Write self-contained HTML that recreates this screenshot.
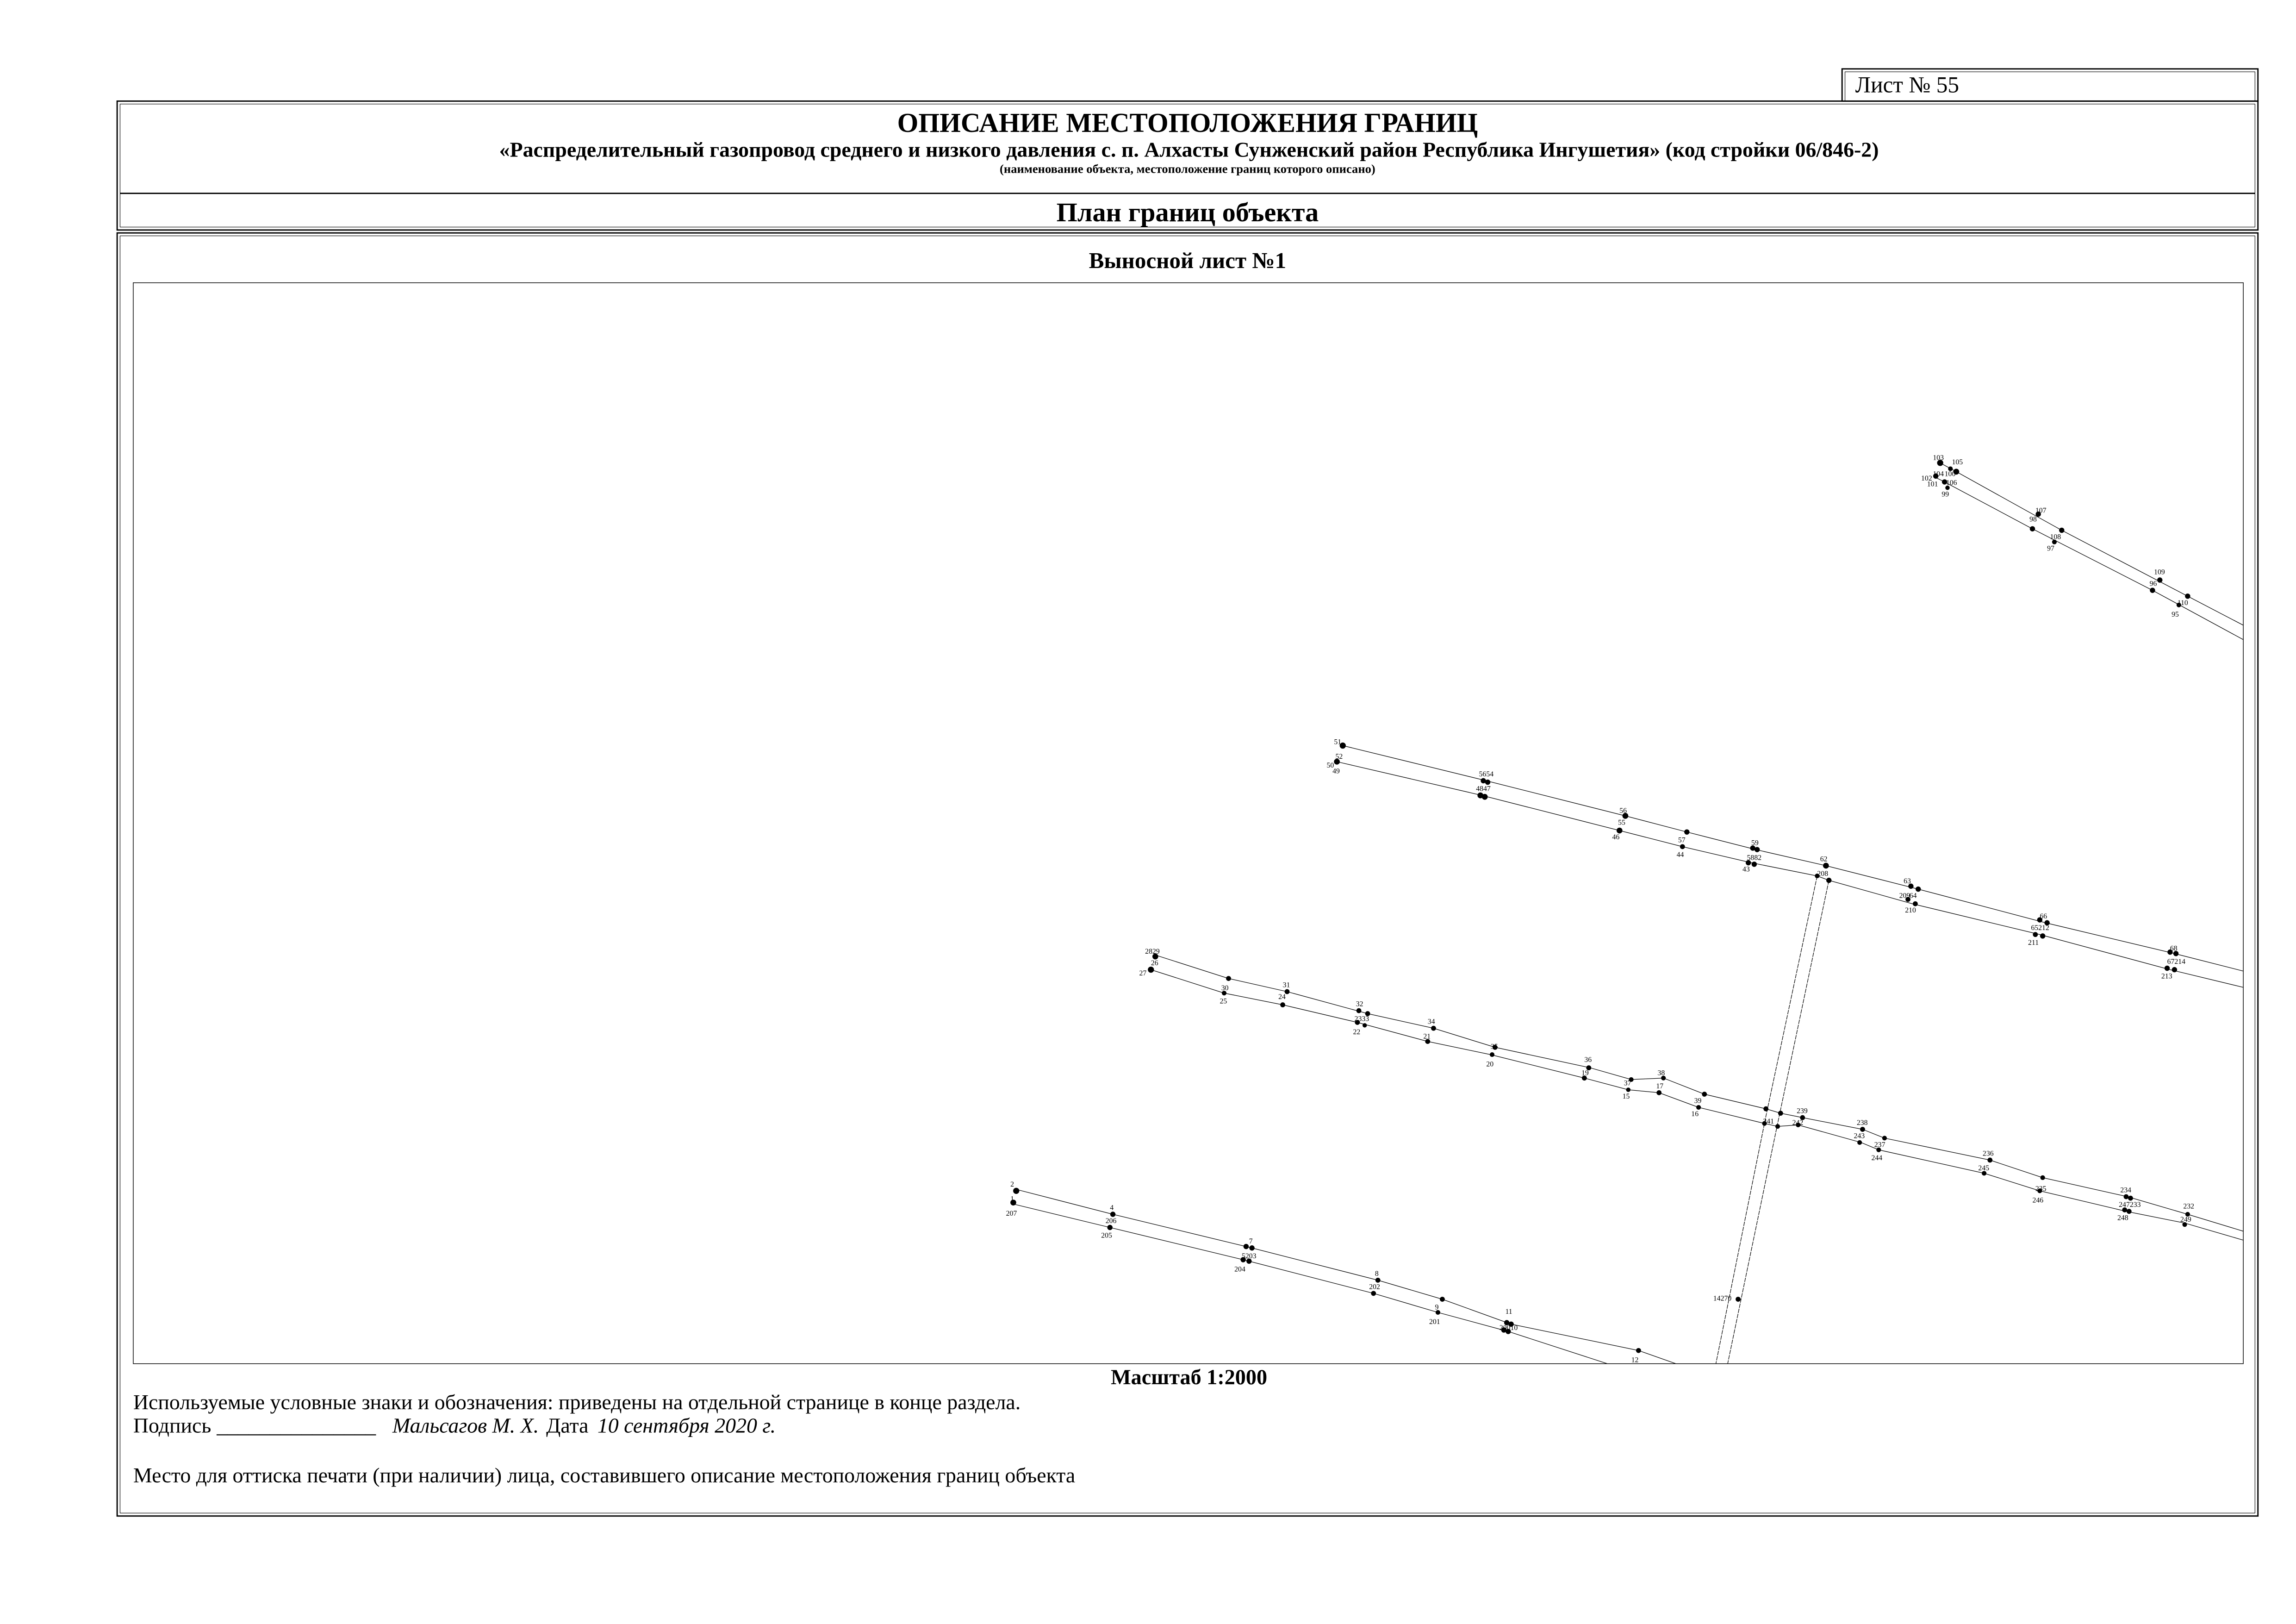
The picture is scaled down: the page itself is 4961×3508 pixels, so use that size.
<!DOCTYPE html>
<html><head><meta charset="utf-8"><style>
html,body{margin:0;padding:0;background:#fff;}
svg{display:block;}
text{font-family:"Liberation Serif",serif;fill:#000;}
</style></head><body>
<svg width="4961" height="3508" viewBox="0 0 1568 1108.7" xmlns="http://www.w3.org/2000/svg">
<defs><clipPath id="c"><rect x="91" y="193" width="1441" height="738"/></clipPath></defs>
<rect x="1258" y="47" width="284" height="22" fill="none" stroke="#000" stroke-width="0.9"/>
<rect x="1260" y="49" width="280" height="20" fill="none" stroke="#000" stroke-width="0.35"/>
<text x="1267" y="63" font-size="15.6">Лист № 55</text>
<rect x="80" y="69" width="1462" height="88" fill="none" stroke="#000" stroke-width="0.9"/>
<rect x="82" y="71" width="1458" height="84" fill="none" stroke="#000" stroke-width="0.35"/>
<line x1="82" y1="132" x2="1540" y2="132" stroke="#000" stroke-width="0.9"/>
<text x="811" y="90" font-size="18.6" font-weight="bold" text-anchor="middle">ОПИСАНИЕ МЕСТОПОЛОЖЕНИЯ ГРАНИЦ</text>
<text x="812" y="107" font-size="14.5" font-weight="bold" text-anchor="middle">«Распределительный газопровод среднего и низкого давления с. п. Алхасты Сунженский район Республика Ингушетия» (код стройки 06/846-2)</text>
<text x="811" y="118" font-size="8.4" font-weight="bold" text-anchor="middle">(наименование объекта, местоположение границ которого описано)</text>
<text x="811" y="151" font-size="18.4" font-weight="bold" text-anchor="middle">План границ объекта</text>
<rect x="80" y="159" width="1462" height="876" fill="none" stroke="#000" stroke-width="0.9"/>
<rect x="82" y="161" width="1458" height="872" fill="none" stroke="#000" stroke-width="0.35"/>
<text x="811" y="183" font-size="15.5" font-weight="bold" text-anchor="middle">Выносной лист №1</text>
<rect x="91" y="193" width="1441" height="738" fill="none" stroke="#000" stroke-width="0.45"/>
<text x="812" y="945" font-size="14.6" font-weight="bold" text-anchor="middle">Масштаб 1:2000</text>
<text x="91" y="962" font-size="14.5">Используемые условные знаки и обозначения: приведены на отдельной странице в конце раздела.</text>
<text y="978" font-size="14.5"><tspan x="91">Подпись</tspan><tspan x="148">_______________</tspan><tspan x="268" font-style="italic">Мальсагов М. Х.</tspan><tspan x="373">Дата</tspan><tspan x="408" font-style="italic">10 сентября 2020 г.</tspan></text>
<text x="91" y="1012" font-size="14.5">Место для оттиска печати (при наличии) лица, составившего описание местоположения границ объекта</text>

<g clip-path="url(#c)" stroke="#000" stroke-width="0.4" fill="none">
<polyline points="1325,316 1336,322 1408,362 1494,407 1540,431"/>
<polyline points="1322,326 1328,329 1388,361 1470,403 1540,441"/>
<polyline points="917,509 1015,533 1110,557 1152,568 1199,580 1247,591 1310,607 1397,630 1485,651 1540,665"/>
<polyline points="913,520 1012,543 1106,567 1149,578 1196,589 1241,598 1249,601 1306,617 1393,638 1482,662 1540,676"/>
<polyline points="1241,598 1206,762 1170,940" stroke-dasharray="3,0.6"/>
<polyline points="1249,601 1214,767 1178,940" stroke-dasharray="3,0.6"/>
<polyline points="789,652 839,668 879,677 934,692 979,702 1021,715 1086,729 1114,737 1136,736 1164,747 1206,757 1216,760 1231,763 1272,771 1287,777 1359,792 1395,804 1453,817 1494,829 1540,843"/>
<polyline points="786,662 836,678 876,686 927,698 975,711 1018,720 1082,736 1112,744 1133,746 1160,756 1205,767 1214,769 1228,768 1271,780 1283,785 1355,801 1393,813 1452,827 1492,835 1540,849"/>
<polyline points="694,812 760,829 855,852 941,874 985,887 1032,904 1119,922 1170,940"/>
<polyline points="692,822 758,838 853,861 938,883 982,896 1030,909 1110,935"/>
</g>
<g fill="#000" clip-path="url(#c)">
<circle cx="1325" cy="316" r="2.1"/><circle cx="1332" cy="320" r="1.6"/><circle cx="1336" cy="322" r="2"/><circle cx="1322" cy="325" r="1.8"/><circle cx="1328" cy="329" r="1.8"/><circle cx="1330" cy="333" r="1.5"/>
<circle cx="1392" cy="351" r="1.8"/><circle cx="1388" cy="361" r="1.8"/><circle cx="1408" cy="362" r="1.8"/><circle cx="1403" cy="370" r="1.6"/>
<circle cx="1475" cy="396" r="1.8"/><circle cx="1470" cy="403" r="1.8"/><circle cx="1494" cy="407" r="1.8"/><circle cx="1488" cy="413" r="1.6"/>
<circle cx="917" cy="509" r="2.1"/><circle cx="913" cy="520" r="2"/><circle cx="1013" cy="533" r="1.8"/><circle cx="1016" cy="534" r="1.8"/><circle cx="1011" cy="543" r="2"/><circle cx="1014" cy="544" r="2"/>
<circle cx="1110" cy="557" r="2"/><circle cx="1106" cy="567" r="2"/><circle cx="1152" cy="568" r="1.8"/><circle cx="1149" cy="578" r="1.7"/>
<circle cx="1197" cy="579" r="1.8"/><circle cx="1200" cy="580" r="1.8"/><circle cx="1194" cy="589" r="1.8"/><circle cx="1198" cy="590" r="1.8"/>
<circle cx="1247" cy="591" r="2"/><circle cx="1241" cy="598" r="1.6"/><circle cx="1249" cy="601" r="1.8"/>
<circle cx="1305" cy="605" r="1.8"/><circle cx="1310" cy="607" r="1.8"/><circle cx="1303" cy="614" r="1.7"/><circle cx="1308" cy="617" r="1.7"/>
<circle cx="1393" cy="628" r="1.8"/><circle cx="1398" cy="630" r="1.8"/><circle cx="1390" cy="638" r="1.7"/><circle cx="1395" cy="639" r="1.8"/>
<circle cx="1482" cy="650" r="1.8"/><circle cx="1486" cy="651" r="1.8"/><circle cx="1480" cy="661" r="1.8"/><circle cx="1485" cy="662" r="1.8"/>
<circle cx="789" cy="653" r="2"/><circle cx="786" cy="662" r="2.1"/><circle cx="839" cy="668" r="1.7"/><circle cx="836" cy="678" r="1.6"/>
<circle cx="879" cy="677" r="1.7"/><circle cx="876" cy="686" r="1.7"/><circle cx="928" cy="690" r="1.7"/><circle cx="934" cy="692" r="1.7"/><circle cx="927" cy="698" r="1.7"/><circle cx="932" cy="700" r="1.5"/>
<circle cx="979" cy="702" r="1.7"/><circle cx="975" cy="711" r="1.7"/><circle cx="1021" cy="715" r="1.7"/><circle cx="1019" cy="720" r="1.6"/>
<circle cx="1085" cy="729" r="1.7"/><circle cx="1082" cy="736" r="1.7"/><circle cx="1114" cy="737" r="1.6"/><circle cx="1112" cy="744" r="1.5"/>
<circle cx="1136" cy="736" r="1.6"/><circle cx="1133" cy="746" r="1.7"/><circle cx="1164" cy="747" r="1.7"/><circle cx="1160" cy="756" r="1.6"/>
<circle cx="1206" cy="757" r="1.7"/><circle cx="1216" cy="760" r="1.7"/><circle cx="1205" cy="767" r="1.6"/><circle cx="1214" cy="769" r="1.6"/>
<circle cx="1231" cy="763" r="1.7"/><circle cx="1228" cy="768" r="1.6"/><circle cx="1272" cy="771" r="1.7"/><circle cx="1270" cy="780" r="1.6"/><circle cx="1287" cy="777" r="1.6"/><circle cx="1283" cy="785" r="1.6"/>
<circle cx="1359" cy="792" r="1.7"/><circle cx="1355" cy="801" r="1.6"/><circle cx="1395" cy="804" r="1.6"/><circle cx="1393" cy="813" r="1.6"/>
<circle cx="1452" cy="817" r="1.7"/><circle cx="1455" cy="818" r="1.7"/><circle cx="1451" cy="826" r="1.7"/><circle cx="1454" cy="827" r="1.7"/><circle cx="1494" cy="829" r="1.6"/><circle cx="1492" cy="836" r="1.6"/>
<circle cx="694" cy="813" r="2.1"/><circle cx="692" cy="821" r="2"/><circle cx="760" cy="829" r="1.8"/><circle cx="758" cy="838" r="1.8"/>
<circle cx="851" cy="851" r="1.8"/><circle cx="855" cy="852" r="1.8"/><circle cx="849" cy="860" r="1.8"/><circle cx="853" cy="861" r="1.8"/>
<circle cx="941" cy="874" r="1.7"/><circle cx="938" cy="883" r="1.7"/><circle cx="985" cy="887" r="1.7"/><circle cx="982" cy="896" r="1.6"/>
<circle cx="1029" cy="903" r="1.8"/><circle cx="1032" cy="904" r="1.8"/><circle cx="1027" cy="908" r="1.8"/><circle cx="1030" cy="909" r="1.8"/>
<circle cx="1119" cy="922" r="1.7"/><circle cx="1187" cy="887" r="1.7"/>
</g>
<g style="font-family:'Liberation Sans',sans-serif;font-size:5px">
<text x="1320" y="314">103</text><text x="1333" y="317">105</text><text x="1312" y="328">102</text><text x="1320" y="325">104</text><text x="1328" y="325">100</text><text x="1316" y="332">101</text><text x="1329" y="331">106</text><text x="1326" y="339">99</text>
<text x="1390" y="350">107</text><text x="1386" y="356">98</text><text x="1400" y="368">108</text><text x="1398" y="376">97</text>
<text x="1471" y="392">109</text><text x="1468" y="400">96</text><text x="1487" y="413">110</text><text x="1483" y="421">95</text>
<text x="911" y="508">51</text><text x="912" y="518">52</text><text x="906" y="524">50</text><text x="910" y="528">49</text>
<text x="1010" y="530">5654</text><text x="1008" y="540">4847</text><text x="1106" y="555">56</text><text x="1105" y="563">55</text><text x="1101" y="573">46</text>
<text x="1146" y="575">57</text><text x="1145" y="585">44</text><text x="1196" y="577">59</text><text x="1193" y="587">5882</text><text x="1190" y="595">43</text>
<text x="1243" y="588">62</text><text x="1241" y="598">208</text><text x="1300" y="603">63</text><text x="1297" y="613">209</text><text x="1304" y="613">64</text><text x="1301" y="623">210</text>
<text x="1393" y="627">66</text><text x="1387" y="635">65212</text><text x="1385" y="645">211</text><text x="1482" y="649">68</text><text x="1480" y="658">67214</text><text x="1476" y="668">213</text>
<text x="782" y="651">2829</text><text x="786" y="659">26</text><text x="778" y="666">27</text><text x="833" y="685">25</text><text x="834" y="676">30</text>
<text x="876" y="674">31</text><text x="873" y="682">24</text><text x="926" y="687">32</text><text x="925" y="697">2333</text><text x="924" y="706">22</text>
<text x="975" y="699">34</text><text x="972" y="709">21</text><text x="1018" y="716">35</text><text x="1015" y="728">20</text>
<text x="1082" y="725">36</text><text x="1080" y="734">19</text><text x="1109" y="741">37</text><text x="1108" y="750">15</text><text x="1132" y="734">38</text><text x="1131" y="743">17</text><text x="1157" y="753">39</text><text x="1155" y="762">16</text>
<text x="1204" y="767">241</text><text x="1227" y="760">239</text><text x="1224" y="768">242</text><text x="1268" y="768">238</text><text x="1266" y="777">243</text><text x="1280" y="783">237</text><text x="1278" y="792">244</text>
<text x="1354" y="789">236</text><text x="1351" y="799">245</text><text x="1390" y="813">235</text><text x="1388" y="821">246</text>
<text x="1448" y="814">234</text><text x="1447" y="824">247233</text><text x="1446" y="833">248</text><text x="1491" y="825">232</text><text x="1489" y="834">249</text>
<text x="690" y="810">2</text><text x="690" y="820">1</text><text x="687" y="830">207</text><text x="758" y="826">4</text><text x="755" y="835">206</text><text x="752" y="845">205</text>
<text x="853" y="849">7</text><text x="848" y="859">5203</text><text x="843" y="868">204</text><text x="939" y="871">8</text><text x="935" y="880">202</text>
<text x="980" y="894">9</text><text x="976" y="904">201</text><text x="1028" y="897">11</text><text x="1024" y="908">20010</text><text x="1114" y="930">12</text><text x="1170" y="888">14270</text>
</g>
</svg>
</body></html>
